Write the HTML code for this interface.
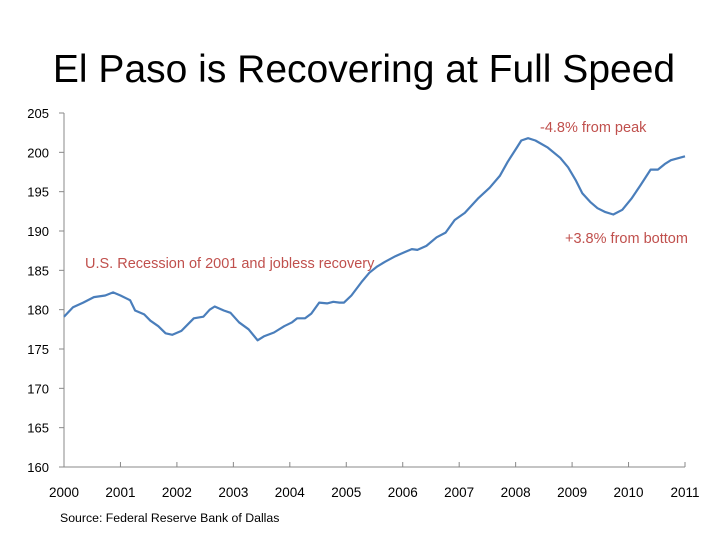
<!DOCTYPE html>
<html><head><meta charset="utf-8"><style>
html,body{margin:0;padding:0;background:#fff;}
svg{display:block;font-family:"Liberation Sans",sans-serif;}
</style></head><body>
<svg width="728" height="546" viewBox="0 0 728 546">
<text x="364" y="82" text-anchor="middle" font-size="39" fill="#000">El Paso is Recovering at Full Speed</text>
<g id="axes"></g>
<path id="line" fill="none" stroke="#4a7ebb" stroke-width="2.2" stroke-linejoin="round"/>
<text x="85" y="268" font-size="14.5" fill="#c0504d">U.S. Recession of 2001 and jobless recovery</text>
<text x="540" y="132" font-size="14.5" fill="#c0504d">-4.8% from peak</text>
<text x="565" y="243" font-size="14.5" fill="#c0504d">+3.8% from bottom</text>
<text x="60" y="522" font-size="12.3" fill="#000">Source: Federal Reserve Bank of Dallas</text>
</svg>
<script>
const years = [2000,2001,2002,2003,2004,2005,2006,2007,2008,2009,2010,2011];
const yTicks = [160,165,170,175,180,185,190,195,200,205];
const dates = [2000.0,2000.16,2000.34,2000.53,2000.73,2000.87,2001.0,2001.17,2001.26,2001.42,2001.53,2001.67,2001.8,2001.92,2002.08,2002.3,2002.47,2002.58,2002.67,2002.83,2002.95,2003.1,2003.27,2003.43,2003.54,2003.72,2003.9,2004.04,2004.13,2004.27,2004.38,2004.52,2004.66,2004.77,2004.88,2004.96,2005.09,2005.27,2005.41,2005.55,2005.69,2005.87,2006.03,2006.16,2006.26,2006.42,2006.6,2006.76,2006.92,2007.1,2007.33,2007.54,2007.72,2007.86,2008.02,2008.1,2008.22,2008.35,2008.57,2008.79,2008.93,2009.07,2009.18,2009.32,2009.45,2009.59,2009.73,2009.89,2010.05,2010.21,2010.39,2010.52,2010.64,2010.75,2011.0];
const values = [179.1,180.3,180.9,181.6,181.8,182.2,181.8,181.2,179.9,179.4,178.6,177.9,177.0,176.8,177.3,178.9,179.1,180.0,180.4,179.9,179.6,178.4,177.5,176.1,176.6,177.1,177.9,178.4,178.9,178.9,179.5,180.9,180.8,181.0,180.9,180.9,181.8,183.5,184.7,185.5,186.1,186.8,187.3,187.7,187.6,188.1,189.2,189.8,191.4,192.3,194.1,195.5,197.0,198.8,200.6,201.5,201.8,201.5,200.6,199.3,198.1,196.4,194.8,193.7,192.9,192.4,192.1,192.7,194.1,195.8,197.8,197.8,198.5,199.0,199.5];
const X0=64,X1=685,Y0=467,Y1=113;
const sx=v=>X0+(v-2000)/11*(X1-X0);
const sy=v=>Y0-(v-160)/45*(Y0-Y1);
const NS="http://www.w3.org/2000/svg";
const g=document.getElementById('axes');
function mk(t,a){const e=document.createElementNS(NS,t);for(const k in a)e.setAttribute(k,a[k]);g.appendChild(e);return e;}
let e=mk('line',{x1:X0,y1:Y1,x2:X0,y2:Y0,stroke:'#888','stroke-width':1});


e=mk('line',{x1:X0,y1:Y0,x2:X1,y2:Y0,stroke:'#888','stroke-width':1});


yTicks.forEach(v=>{
  mk('line',{x1:X0-5,y1:sy(v),x2:X0,y2:sy(v),stroke:'#888'});
  const t=mk('text',{x:X0-15,y:sy(v)+5,'text-anchor':'end','font-size':13,fill:'#000'});
  t.textContent=v;
  
  
});
years.forEach(v=>{
  mk('line',{x1:sx(v),y1:Y0,x2:sx(v),y2:Y0-5,stroke:'#888'});
  const t=mk('text',{x:sx(v),y:497,'text-anchor':'middle','font-size':13.5,fill:'#000'});
  t.textContent=v;
  
  
});
document.getElementById('line').setAttribute('d',dates.map((d,i)=>(i?'L':'M')+sx(d).toFixed(1)+','+sy(values[i]).toFixed(1)).join(''));
</script>
</body></html>
